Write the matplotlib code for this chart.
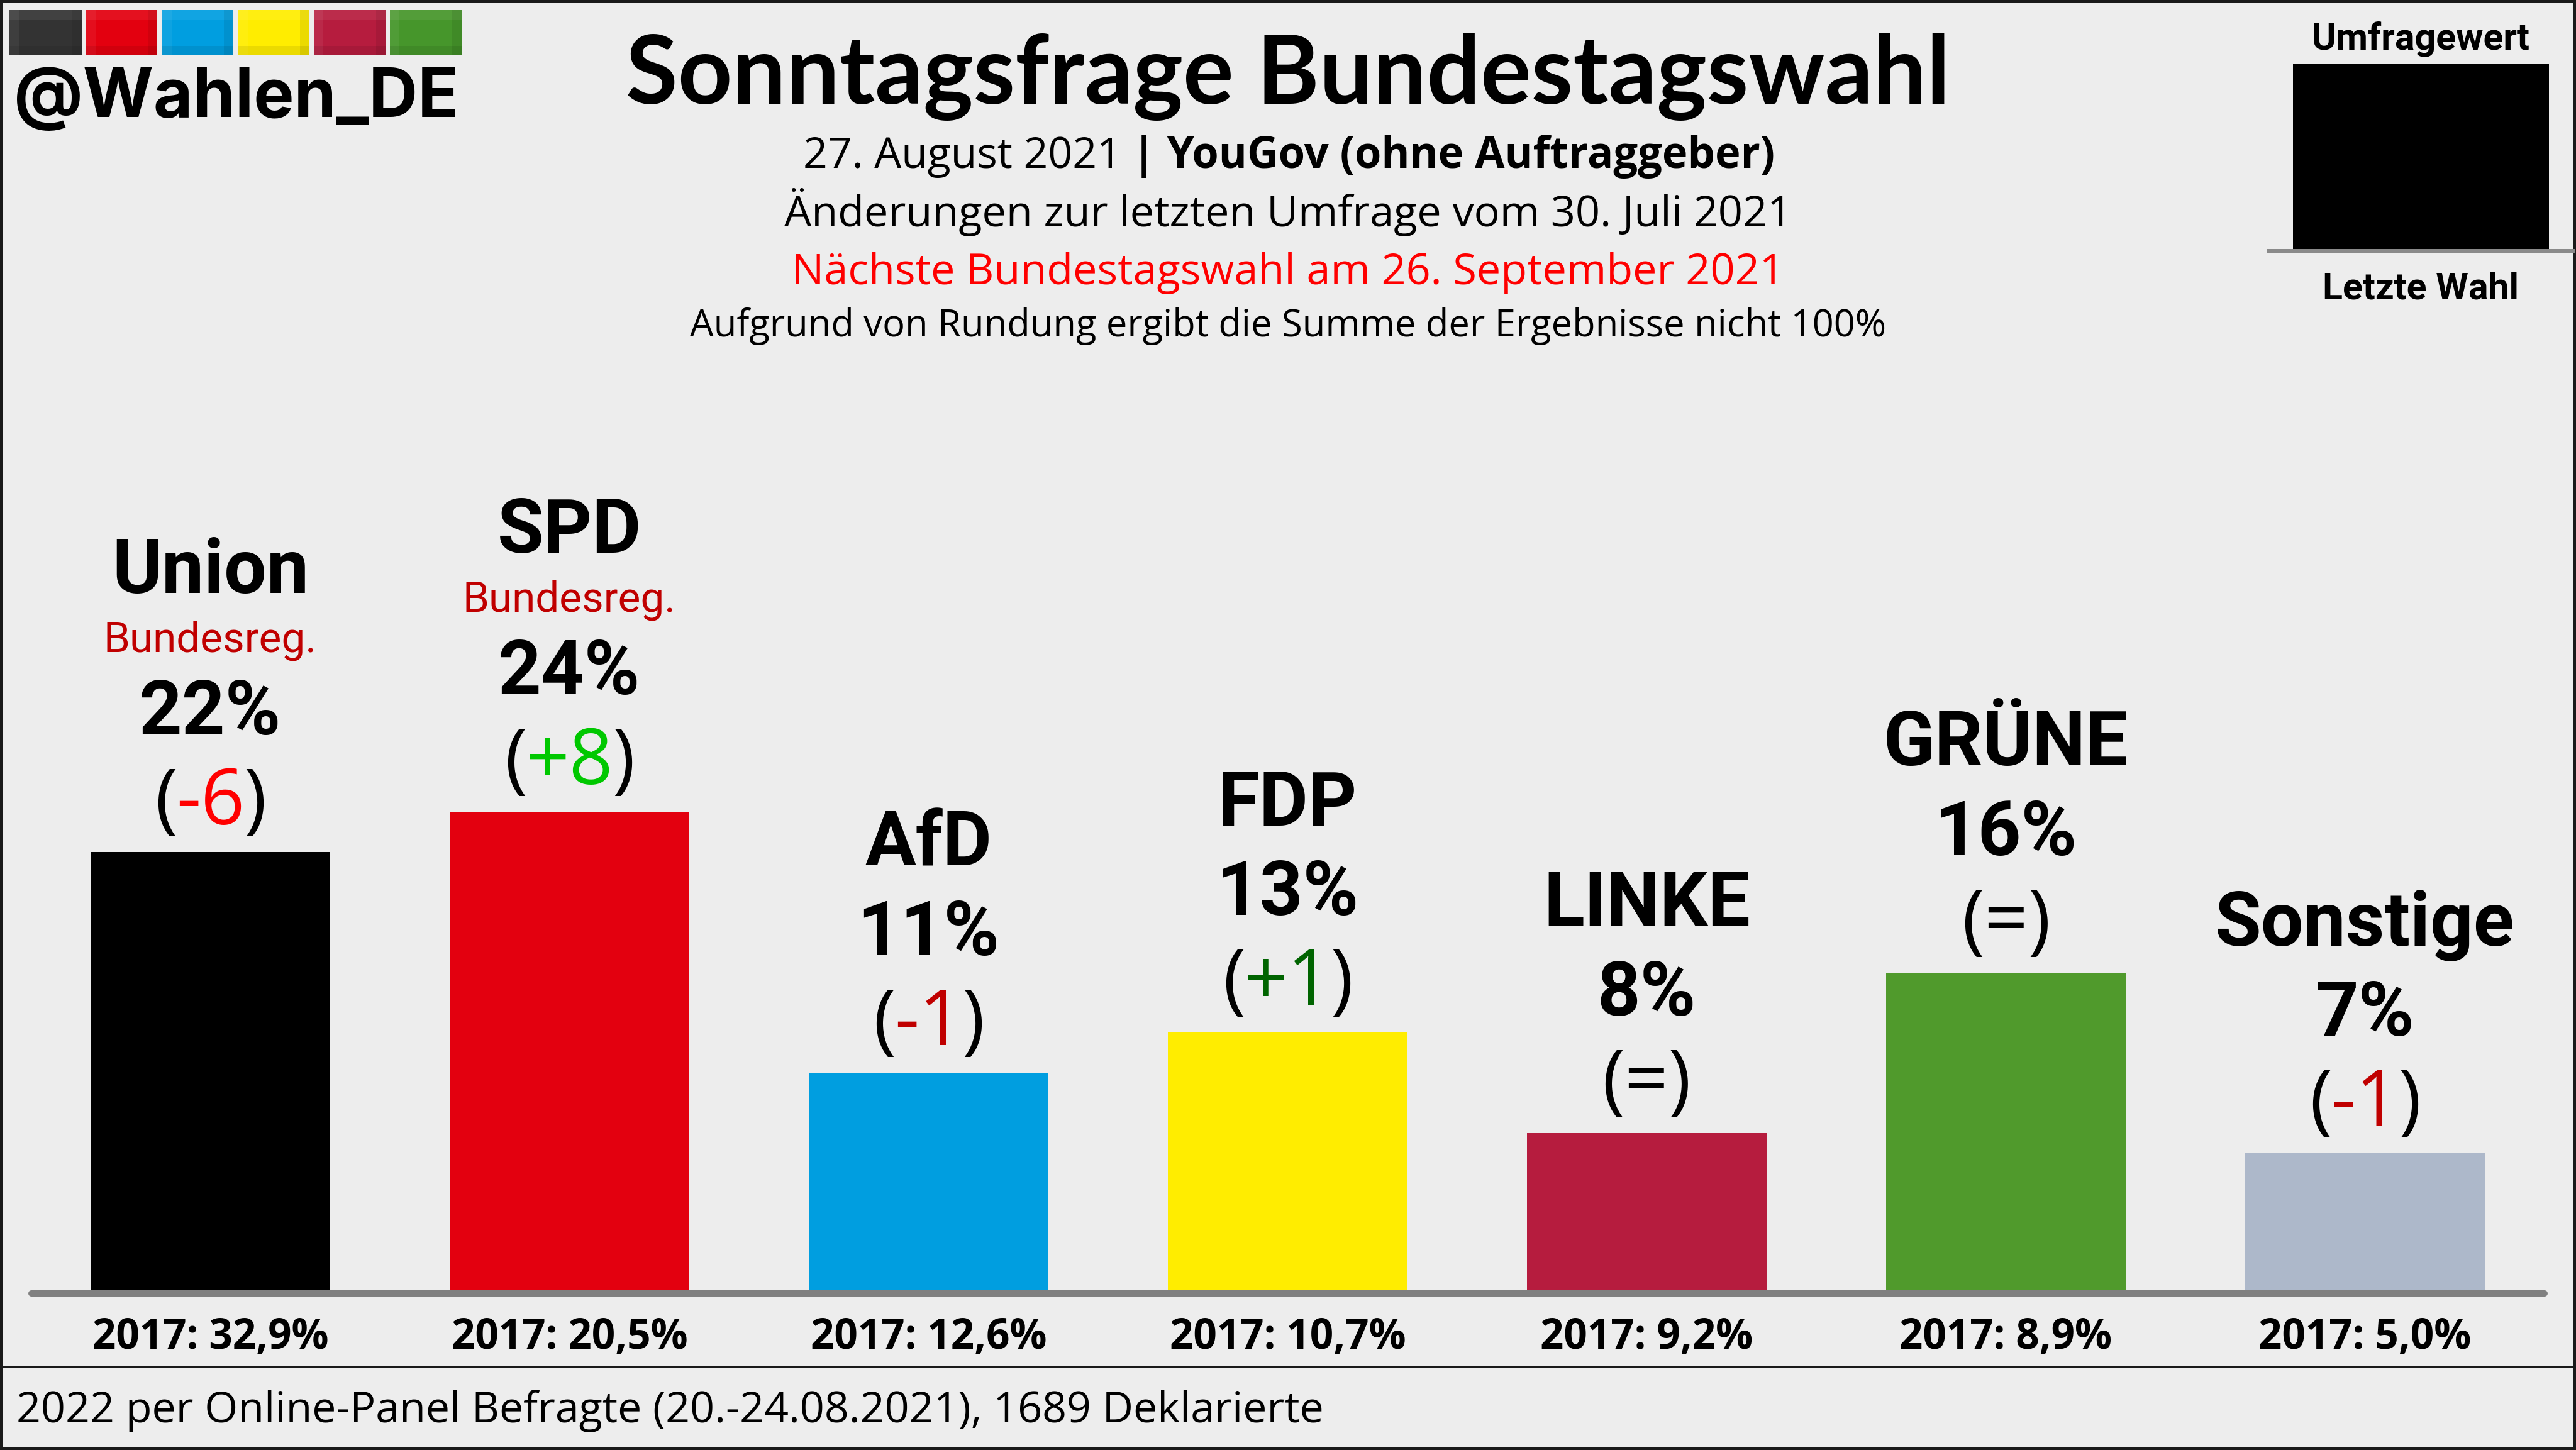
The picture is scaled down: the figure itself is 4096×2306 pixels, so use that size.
import matplotlib
matplotlib.use("Agg")
import matplotlib.pyplot as plt
from matplotlib.patches import Rectangle

W, H = 4096, 2306
DPI = 100
PX = 72 / DPI  # points per pixel

parties = ["Union", "SPD", "AfD", "FDP", "LINKE", "GRÜNE", "Sonstige"]
values = [22, 24, 11, 13, 8, 16, 7]
changes = ["-6", "+8", "-1", "+1", "=", "=", "-1"]
change_colors = ["#FF0000", "#00C800", "#C00000", "#006400", "#000000", "#000000", "#C00000"]
last_election = ["32,9", "20,5", "12,6", "10,7", "9,2", "8,9", "5,0"]
bar_colors = ["#000000", "#E3000F", "#009EE0", "#FFED00", "#B61C3E", "#509A2C", "#ADB8CA"]
government = [True, True, False, False, False, False, False]
logo_colors = ["#333333", "#E3000F", "#009EE0", "#FFED00", "#B61C3E", "#46962B"]

BG = "#EDEDED"
AXIS = "#808080"
ROBOTO = "Roboto"
SANS = "Open Sans"

fig = plt.figure(figsize=(W / DPI, H / DPI), dpi=DPI, facecolor=BG)

# Chart axes: y in percent, x in bar index, spanning the whole canvas
Y0, PER, X0, STEP = 2057, 31.9, 334.5, 571
ax = fig.add_axes([0, 0, 1, 1], facecolor="none")
ax.set_xlim(-X0 / STEP, (W - X0) / STEP)
ax.set_ylim(-(H - Y0) / PER, Y0 / PER)
ax.axis("off")

# Overlay in pixel coordinates for furniture
pix = fig.add_axes([0, 0, 1, 1], facecolor="none")
pix.set_xlim(0, W); pix.set_ylim(H, 0); pix.axis("off")
pix.set_zorder(5)

xs = list(range(len(parties)))
ax.bar(xs, values, width=381 / STEP, color=bar_colors, linewidth=0, zorder=2)


def lab(i, dy, s, size, color="black", weight="normal", family=ROBOTO, dx=0, ha="center"):
    return ax.annotate(s, (xs[i], values[i]), xytext=(dx, dy), textcoords="offset pixels",
                       ha=ha, va="baseline", fontsize=size * PX, color=color,
                       fontweight=weight, family=family, zorder=3)


fig.canvas.draw()
renderer = fig.canvas.get_renderer()
for i in xs:
    chg = changes[i]
    if chg == "=":
        lab(i, 44, "(=)", 122, family=SANS)
    else:
        # brackets stay black around the coloured change
        t = lab(i, 44, chg, 122, color=change_colors[i], family=SANS)
        half = t.get_window_extent(renderer).width / 2 - 2
        lab(i, 44, "(", 122, family=SANS, dx=-half, ha="right")
        lab(i, 44, ")", 122, family=SANS, dx=half, ha="left")
    lab(i, 187, f"{values[i]}%", 120, weight="bold")
    if government[i]:
        lab(i, 319, "Bundesreg.", 67.4, color="#C00000")
        lab(i, 412, parties[i], 120, weight="bold")
    else:
        lab(i, 330, parties[i], 120, weight="bold")
    ax.text(xs[i], (Y0 - 2145) / PER, f"2017: {last_election[i]}%", ha="center", va="baseline",
            fontsize=65.5 * PX, fontweight="bold", family=SANS, zorder=3)

# axis line
pix.plot([50, 4046], [2057, 2057], color=AXIS, lw=10 * PX, solid_capstyle="round", zorder=2)

# logo squares
logo_x = [(15, 130), (137, 250), (258, 371), (379, 492), (499, 613), (620, 734)]
for (a, b), c in zip(logo_x, logo_colors):
    pix.add_patch(Rectangle((a, 16), b - a, 71, fc=c, lw=0))
    pix.add_patch(Rectangle((a, 16), b - a, 16, fc="white", alpha=0.07, lw=0))
    pix.add_patch(Rectangle((a, 16), 15, 71, fc="white", alpha=0.06, lw=0))
    pix.add_patch(Rectangle((a, 73), b - a, 14, fc="black", alpha=0.08, lw=0))
    pix.add_patch(Rectangle((b - 15, 16), 15, 71, fc="black", alpha=0.08, lw=0))
pix.text(22, 186, "@Wahlen_DE", fontsize=108 * PX, fontweight="bold", family="Inter", va="baseline")

# title block
cx = 2048
pix.text(cx, 165, "Sonntagsfrage Bundestagswahl", ha="center", va="baseline",
         fontsize=151 * PX, fontweight="bold", family="Lato")
pix.text(1277, 267, "27. August 2021", va="baseline", fontsize=68 * PX, family=SANS)
pix.text(1800, 267, "| YouGov (ohne Auftraggeber)", va="baseline", fontsize=68.6 * PX,
         fontweight="bold", family=SANS)
pix.text(cx, 360, "Änderungen zur letzten Umfrage vom 30. Juli 2021", ha="center", va="baseline",
         fontsize=68.4 * PX, family=SANS)
pix.text(cx, 452, "Nächste Bundestagswahl am 26. September 2021", ha="center", va="baseline",
         fontsize=68.4 * PX, color="#FF0000", family=SANS)
pix.text(cx, 535, "Aufgrund von Rundung ergibt die Summe der Ergebnisse nicht 100%", ha="center",
         va="baseline", fontsize=59.7 * PX, family=SANS)

# legend
pix.text(3849, 79, "Umfragewert", ha="center", va="baseline", fontsize=59 * PX,
         fontweight="bold", family=ROBOTO)
pix.add_patch(Rectangle((3646, 101), 407, 295, fc="black", lw=0))
pix.plot([3605, 4094], [399, 399], color="#8A8A8A", lw=6 * PX, solid_capstyle="butt")
pix.text(3849, 475, "Letzte Wahl", ha="center", va="baseline", fontsize=59 * PX,
         fontweight="bold", family=ROBOTO)

# frame and footer
pix.plot([0, W], [2173, 2173], color="#1A1A1A", lw=3 * PX, solid_capstyle="butt")
pix.add_patch(Rectangle((0, 0), W, H, fc="none", ec="#1A1A1A", lw=9 * PX))
pix.text(26, 2262, "2022 per Online-Panel Befragte (20.-24.08.2021), 1689 Deklarierte", va="baseline",
         fontsize=68.2 * PX, family=SANS)

fig.savefig("out.png", dpi=DPI, facecolor=BG)
